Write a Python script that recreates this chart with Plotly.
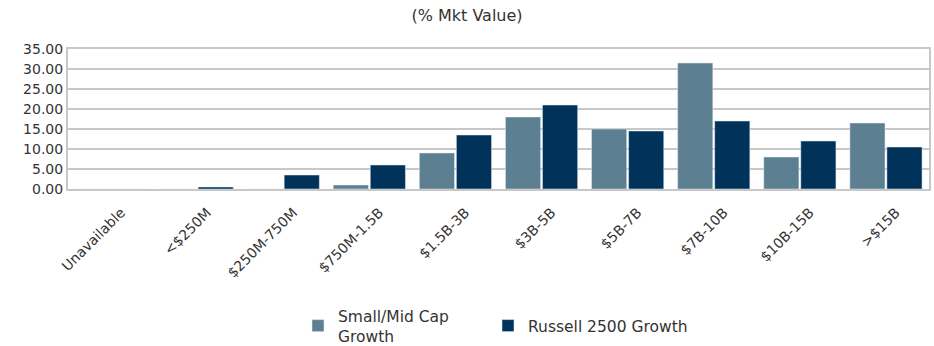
import plotly.graph_objects as go

# Market-cap buckets and portfolio weights (% of market value)
categories = ["Unavailable", "<$250M", "$250M-750M", "$750M-1.5B", "$1.5B-3B",
              "$3B-5B", "$5B-7B", "$7B-10B", "$10B-15B", ">$15B"]
small_mid_growth = [0.0, 0.0, 0.0, 1.0, 9.0, 18.0, 15.0, 31.5, 8.0, 16.5]
russell_2500_growth = [0.0, 0.5, 3.5, 6.0, 13.5, 21.0, 14.5, 17.0, 12.0, 10.5]
y_ticks = [0, 5, 10, 15, 20, 25, 30, 35]

FONT = "DejaVu Sans"
TEXT = "#333333"
LEGEND_Y = 1 - 326 / 346

fig = go.Figure()
fig.add_trace(go.Bar(name="Small/Mid Cap<br>Growth", x=categories, y=small_mid_growth,
                     marker_color="#5d7f92", legend="legend"))
fig.add_trace(go.Bar(name="Russell 2500 Growth", x=categories, y=russell_2500_growth,
                     marker_color="#01335a", legend="legend2"))

legend_style = dict(xref="container", yref="container", yanchor="middle",
                    xanchor="left", y=LEGEND_Y, orientation="h",
                    font=dict(family=FONT, size=15.5, color=TEXT),
                    valign="middle", itemwidth=30, bgcolor="rgba(0,0,0,0)")

fig.update_layout(
    width=934, height=346,
    margin=dict(l=68, r=5, t=49, b=157, autoexpand=False),
    paper_bgcolor="white", plot_bgcolor="white",
    font=dict(family=FONT, color=TEXT, size=14),
    barmode="group", bargap=0.14, bargroupgap=0.05,
    title=dict(text="(% Mkt Value)", x=0.5, xanchor="center",
               y=1 - 15 / 346, yanchor="middle", yref="container",
               font=dict(family=FONT, size=16, color=TEXT)),
    showlegend=True,
    legend=dict(x=298 / 934, **legend_style),
    legend2=dict(x=488 / 934, **legend_style),
)

fig.update_xaxes(tickangle=-45, tickfont=dict(family=FONT, size=14, color=TEXT),
                 ticklabelshift=10, ticklabelstandoff=8,
                 showline=True, linecolor="#c8c8c8", linewidth=2, mirror=True,
                 ticks="", showgrid=False)
fig.update_yaxes(range=[0, 35], tickvals=y_ticks, tickformat=".2f",
                 tickfont=dict(family=FONT, size=14, color=TEXT),
                 showgrid=True, gridcolor="#c8c8c8", gridwidth=2,
                 showline=True, linecolor="#c8c8c8", linewidth=2, mirror=True,
                 zeroline=False, ticks="")

fig.write_html("out.html")
